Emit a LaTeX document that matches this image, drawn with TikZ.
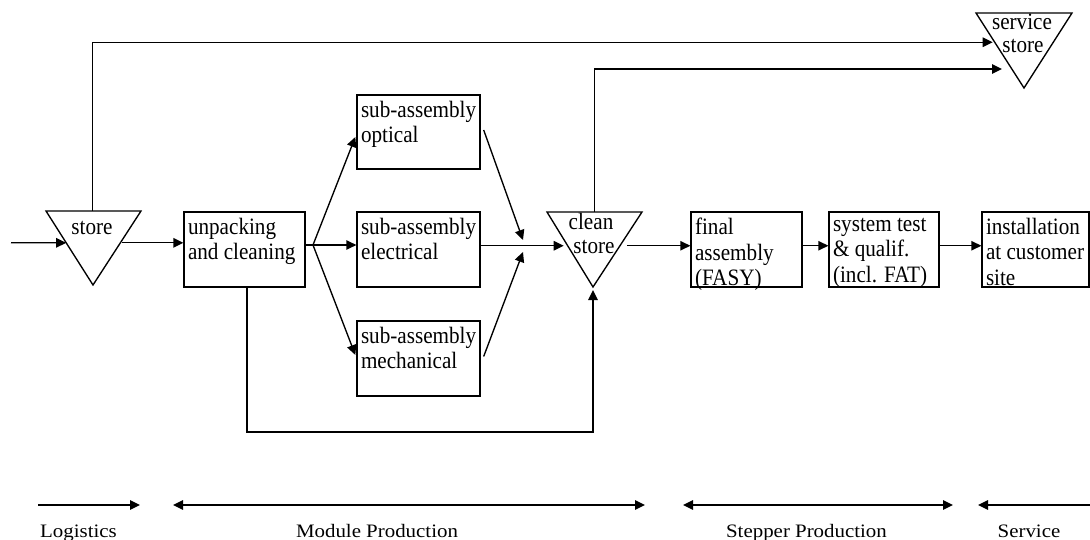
\documentclass[tikz,border=0pt]{standalone}
\usepackage{fontspec}
\setmainfont{Liberation Serif}[FakeStretch=0.9]
\newfontfamily\phasefont{Liberation Serif}[FakeStretch=1.1]
\usetikzlibrary{arrows.meta,calc}

\begin{document}
\begin{tikzpicture}[x=1pt,y=-1pt,
  line width=1.35pt,
  >={Triangle[length=10pt,width=9.5pt]},
  box/.style={draw, rectangle, inner sep=0pt, minimum height=75pt},
  boxtext/.style={anchor=north west, align=left, inner xsep=4pt, inner ysep=6pt,
                  font=\fontsize{23.5}{25.5}\selectfont},
  tritext/.style={anchor=base, inner sep=0pt, font=\fontsize{23.5}{25.5}\selectfont},
  flow/.style={->},
  phase/.style={anchor=base, inner sep=0pt, font=\phasefont\fontsize{19}{22}\selectfont},
]
\useasboundingbox (0,0) rectangle (1090,540);

% ---------- process boxes ----------
\node[box, minimum width=121pt] (unpack)  at (244.5,249.5) {};
\node[box, minimum width=123pt, minimum height=74pt] (opt) at (418.5,132) {};
\node[box, minimum width=123pt] (elec)    at (418.5,249.5) {};
\node[box, minimum width=123pt] (mech)    at (418.5,358.5) {};
\node[box, minimum width=111pt] (fasy)    at (746.5,249.5) {};
\node[box, minimum width=110pt] (sys)     at (884,249.5) {};
\node[box, minimum width=107pt] (inst)    at (1035.5,249.5) {};

\node[boxtext] (unpackT) at (unpack.north west) {unpacking\\and cleaning};
\node[boxtext] (optT)    at (opt.north west)    {sub-assembly\\optical};
\node[boxtext] (elecT)   at (elec.north west)   {sub-assembly\\electrical};
\node[boxtext] (mechT)   at (mech.north west)   {sub-assembly\\mechanical};
\node[boxtext] (fasyT)   at (fasy.north west)   {final\\assembly\\(FASY)};
\node[boxtext] (sysT)    at (sys.north west)    {system test\\\& qualif.\\(incl. FAT)};
\node[boxtext] (instT)   at (inst.north west)   {installation\\at customer\\site};

% ---------- stores (inverted triangles) ----------
\coordinate (storeL) at (46,211);  \coordinate (storeR) at (141,211); \coordinate (storeA) at (93,285);
\coordinate (cleanL) at (547,212); \coordinate (cleanR) at (642,212); \coordinate (cleanA) at (593,287);
\coordinate (svcL)   at (976,13);  \coordinate (svcR)   at (1072,13); \coordinate (svcA)   at (1024,88);

\draw[line join=miter] (storeL) -- (storeR) -- (storeA) -- cycle;
\draw[line join=miter] (cleanL) -- (cleanR) -- (cleanA) -- cycle;
\draw[line join=miter] (svcL) -- (svcR) -- (svcA) -- cycle;

\node[tritext] (storeT)  at (92,235)   {store};
\node[tritext] (cleanT1) at (591,230)  {clean};
\node[tritext] (cleanT2) at (594,254)  {store};
\node[tritext] (svcT1)   at (1022,30)  {service};
\node[tritext] (svcT2)   at (1023,53)  {store};

% points on the triangle sides where connectors meet them
\coordinate (storeIn)  at ($(storeL)!0.43!(storeA)$);
\coordinate (storeOut) at ($(storeR)!0.43!(storeA)$);
\coordinate (storeTop) at ($(storeL)!0.5!(storeR)$);
\coordinate (cleanIn)  at ($(cleanL)!0.45!(cleanA)$);
\coordinate (cleanOut) at ($(cleanR)!0.45!(cleanA)$);
\coordinate (cleanTop) at ($(cleanL)!0.5!(cleanR)$);
\coordinate (svcIn1)   at ($(svcL)!0.39!(svcA)$);
\coordinate (svcIn2)   at (1002,69);

% ---------- main flow ----------
\coordinate (src) at (11,242.8);
\draw[flow] (src) -- (storeIn);
\draw[flow, shorten <=2pt] (storeOut) -- (storeOut -| unpack.west);

\coordinate (fork) at (313,245);
\draw (unpack.east |- fork) -- (fork);
\draw[flow] (fork) -- ($(opt.west)+(-1,5)$);
\draw[flow] (fork) -- (fork -| elec.west);
\draw[flow] (fork) -- ($(mech.west)+(-1,-3.5)$);

\coordinate (mergeA) at (523,240);
\coordinate (mergeB) at (523,252);
\draw[flow] ($(opt.east)+(3,-2)$) -- (mergeA);
\draw[flow] ($(mech.east)+(3,-2)$) -- (mergeB);
\draw[flow, shorten >=4pt] (elec.east |- cleanIn) -- (cleanIn);

\draw[flow, shorten <=7pt] (cleanOut) -- (cleanOut -| fasy.west);
\draw[flow] (fasy.east |- cleanOut) -- (sys.west |- cleanOut);
\draw[flow] (sys.east |- cleanOut) -- (inst.west |- cleanOut);

% ---------- by-pass routes ----------
\draw[flow, shorten >=2pt] ($(storeTop)+(-1,0)$) |- (svcIn1);
\draw[flow] (cleanTop) |- (svcIn2);
\coordinate (loopY) at (0,432);
\draw[flow, shorten >=3pt] ($(unpack.south)+(2.5,0)$) |- (loopY -| cleanA) -- (cleanA);

% ---------- phase bands ----------
\coordinate (logA) at (38,505);   \coordinate (logB) at (140,505);
\coordinate (modA) at (173,505);  \coordinate (modB) at (645,505);
\coordinate (stpA) at (683,505);  \coordinate (stpB) at (953,505);
\coordinate (serA) at (978,505);  \coordinate (serB) at (1095,505);
\draw[->]  (logA) -- (logB);
\draw[<->] (modA) -- (modB);
\draw[<->] (stpA) -- (stpB);
\draw[<-]  (serA) -- (serB);

\node[phase] (logT) at (78.5,537)  {Logistics};
\node[phase] (modT) at (377,537)   {Module Production};
\node[phase] (stpT) at (806.5,537) {Stepper Production};
\node[phase] (serT) at (1029,537)  {Service};
\end{tikzpicture}
\end{document}
